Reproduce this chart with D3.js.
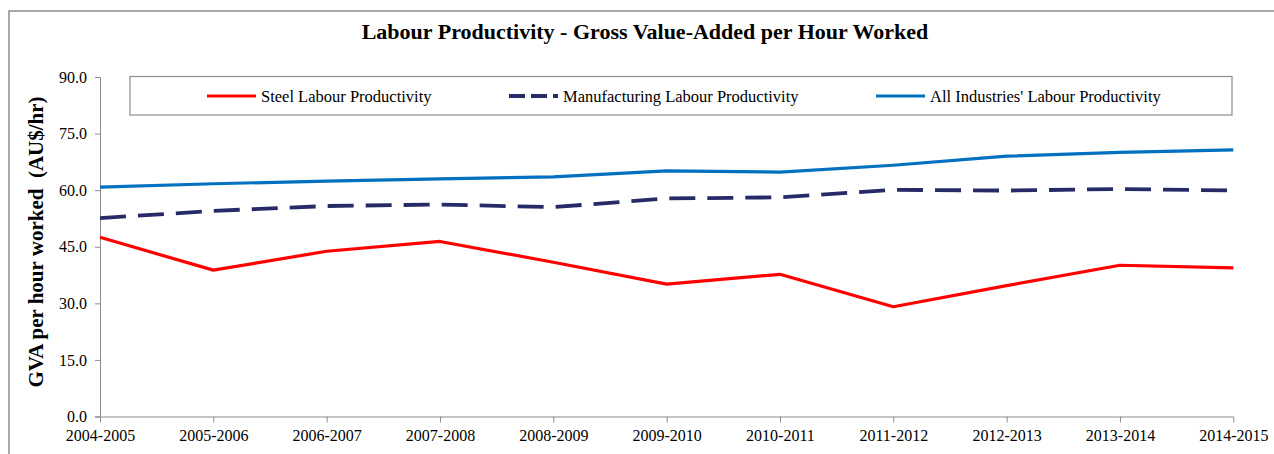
<!DOCTYPE html>
<html><head><meta charset="utf-8">
<script src="https://cdn.jsdelivr.net/npm/d3@7"></script>
<style>
html,body{margin:0;padding:0;background:#fff;}
svg{display:block;}
svg text{font-family:"Times New Roman","Liberation Serif","DejaVu Serif",serif;white-space:pre;}
</style></head>
<body><svg id="c" width="1274" height="454"></svg>
<script>
const categories = ["2004-2005","2005-2006","2006-2007","2007-2008","2008-2009","2009-2010","2010-2011","2011-2012","2012-2013","2013-2014","2014-2015"];
const steel = [47.5, 38.8, 43.8, 46.4, 40.9, 35.1, 37.7, 29.1, 34.7, 40.1, 39.4];
const manufacturing = [52.6, 54.5, 55.8, 56.2, 55.5, 57.8, 58.1, 60.1, 59.9, 60.3, 59.9];
const allIndustries = [60.8, 61.7, 62.4, 63.0, 63.5, 65.1, 64.8, 66.6, 69.0, 70.0, 70.7];
const yTicks = [0, 15, 30, 45, 60, 75, 90];
const seriesNames = ["Steel Labour Productivity", "Manufacturing Labour Productivity", "All Industries' Labour Productivity"];

const svg = d3.select("#c");
const plotL = 100, plotR = 1233.3, plotT = 77, plotB = 416.5;

// outer chart frame (cropped on right/bottom)
svg.append("path").attr("d", "M9,460 L9,11 L1280,11").attr("fill","none").attr("stroke","#8c8c8c").attr("stroke-width",1.5);

svg.append("text").attr("x", 645).attr("y", 39).attr("text-anchor","middle")
  .attr("font-weight","bold").attr("font-size", 22).text("Labour Productivity - Gross Value-Added per Hour Worked");

const x = d3.scalePoint().domain(categories).range([plotL, plotR]);
const y = d3.scaleLinear().domain([0, 90]).range([plotB, plotT]);

const yAxis = svg.append("g").attr("transform", `translate(${plotL},0)`)
  .call(d3.axisLeft(y).tickValues(yTicks).tickFormat(d3.format(".1f")).tickSize(5).tickPadding(8));
const xAxis = svg.append("g").attr("transform", `translate(0,${plotB})`)
  .call(d3.axisBottom(x).tickSize(6).tickPadding(5));
[yAxis, xAxis].forEach(g => {
  g.attr("font-family", null);
  g.selectAll("path,line").attr("stroke", "#8c8c8c").attr("stroke-width", 1);
  g.selectAll("text").attr("font-size", 16).attr("fill", "#000");
});
xAxis.select(".domain").attr("d", `M${plotL},0.5H${plotR}`);
xAxis.selectAll("text").attr("dy", "0.85em");

svg.append("text").attr("transform", "translate(43,242) rotate(-90)").attr("text-anchor","middle")
  .attr("font-weight","bold").attr("font-size", 21).text("GVA per hour worked  (AU$/hr)");

const line = d3.line().x((d, i) => x(categories[i])).y(d => y(d));
const styles = [
  {data: steel, color: "#FF0000", w: 3.2, dash: null},
  {data: manufacturing, color: "#262A66", w: 3.8, dash: "26,12"},
  {data: allIndustries, color: "#0070C0", w: 3.2, dash: null}
];
styles.forEach(s => {
  svg.append("path").attr("d", line(s.data)).attr("fill","none").attr("stroke", s.color)
    .attr("stroke-width", s.w).attr("stroke-dasharray", s.dash).attr("stroke-linejoin","round");
});

// legend
svg.append("rect").attr("x", 130).attr("y", 76.5).attr("width", 1102).attr("height", 38.5)
  .attr("fill","#fff").attr("stroke","#8c8c8c").attr("stroke-width",1.2);
const legX = [207, 509, 876];
styles.forEach((s, i) => {
  svg.append("line").attr("x1", legX[i]).attr("x2", legX[i] + 49).attr("y1", 96).attr("y2", 96)
    .attr("stroke", s.color).attr("stroke-width", s.w).attr("stroke-dasharray", s.dash ? "16,6" : null);
  svg.append("text").attr("x", legX[i] + 54).attr("y", 101.5).attr("font-size", 16.5).text(seriesNames[i]);
});
</script></body></html>
